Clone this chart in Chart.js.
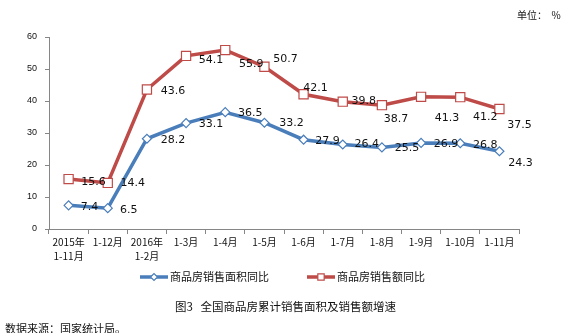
<!DOCTYPE html>
<html>
<head>
<meta charset="utf-8">
<script src="https://cdn.jsdelivr.net/npm/chart.js@4/dist/chart.umd.min.js"></script>
<style>
  body { margin: 0; background: #fff; }
  #wrap { position: relative; width: 571px; height: 333px; }
  #chart { position: absolute; left: 0; top: 0; }
  .txt { position: absolute; font-family: "Noto Sans CJK SC", sans-serif; color: #111; white-space: nowrap; }
  #unit { left: 517px; top: 7px; font-size: 10px; }
  #title { left: 0; width: 571px; text-align: center; top: 298px; font-size: 11.5px; padding-left: 0; }
  #source { left: 5px; top: 320px; font-size: 11px; }
</style>
</head>
<body>
<div id="wrap">
  <canvas id="chart" width="571" height="333"></canvas>
  <div class="txt" id="unit">单位：&nbsp;&nbsp;%</div>
  <div class="txt" id="title">图3&nbsp;&nbsp;&nbsp;全国商品房累计销售面积及销售额增速</div>
  <div class="txt" id="source">数据来源：国家统计局。</div>
</div>
<script>
const categories = [['2015年', '1-11月'], '1-12月', ['2016年', '1-2月'], '1-3月', '1-4月', '1-5月', '1-6月', '1-7月', '1-8月', '1-9月', '1-10月', '1-11月'];
const areaGrowth = [7.4, 6.5, 28.2, 33.1, 36.5, 33.2, 27.9, 26.4, 25.5, 26.9, 26.8, 24.3];
const salesGrowth = [15.6, 14.4, 43.6, 54.1, 55.9, 50.7, 42.1, 39.8, 38.7, 41.3, 41.2, 37.5];
const yTicks = [0, 10, 20, 30, 40, 50, 60];
const seriesNames = ['商品房销售面积同比', '商品房销售额同比'];

// label nudges (dx, dy) relative to each point, so labels don't sit on the lines
const areaNudge = [[21, 2], [21, 2], [26, 1], [25, 1], [25, 1], [27, 0], [24, 1], [24, 0], [25, 1], [25, 1], [25, 2], [21, 12]];
const salesNudge = [[25, 3], [25, 0], [26, 2], [25, 4], [26, 14], [21, -8], [12, -6], [21, 0], [14, 14], [26, 21], [25, 20], [20, 16]];

const BLUE = '#4A7EBB';
const RED = '#BE4B48';
const AXIS = '#868686';

const valueLabels = {
    id: 'valueLabels',
    afterDatasetsDraw(chart) {
        const ctx = chart.ctx;
        const nudges = [areaNudge, salesNudge];
        ctx.save();
        ctx.font = '11px "DejaVu Sans", sans-serif';
        ctx.fillStyle = '#111';
        ctx.textAlign = 'center';
        ctx.textBaseline = 'middle';
        chart.data.datasets.forEach((ds, i) => {
            chart.getDatasetMeta(i).data.forEach((pt, j) => {
                const [dx, dy] = nudges[i][j];
                ctx.fillText(ds.data[j].toFixed(1), pt.x + dx, pt.y + dy);
            });
        });
        ctx.restore();
    }
};

// legend: line swatch with marker in the middle, like the series
const lineLegend = {
    id: 'lineLegend',
    afterDraw(chart) {
        const ctx = chart.ctx;
        const y = 277;
        const items = [
            { x: 140, color: BLUE, style: 'rectRot', r: 3.5 },
            { x: 307, color: RED, style: 'rect', r: 4.5 }
        ];
        ctx.save();
        items.forEach((it, i) => {
            ctx.strokeStyle = it.color;
            ctx.lineWidth = 3.5;
            ctx.beginPath();
            ctx.moveTo(it.x, y);
            ctx.lineTo(it.x + 28, y);
            ctx.stroke();
            ctx.fillStyle = '#fff';
            ctx.lineWidth = 1.2;
            Chart.helpers.drawPoint(ctx, { pointStyle: it.style, radius: it.r, borderWidth: 1.2 }, it.x + 14, y);
            ctx.fillStyle = '#111';
            ctx.font = '11px "Noto Sans CJK SC", sans-serif';
            ctx.textBaseline = 'middle';
            ctx.fillText(seriesNames[i], it.x + 30, y);
        });
        ctx.restore();
    }
};

new Chart(document.getElementById('chart'), {
    type: 'line',
    data: {
        labels: categories,
        datasets: [
            {
                label: seriesNames[0],
                data: areaGrowth,
                borderColor: BLUE,
                borderWidth: 3.5,
                pointStyle: 'rectRot',
                pointRadius: 4.5,
                pointBorderWidth: 1.2,
                pointBackgroundColor: '#fff',
                pointBorderColor: BLUE,
                tension: 0
            },
            {
                label: seriesNames[1],
                data: salesGrowth,
                borderColor: RED,
                borderWidth: 3.5,
                pointStyle: 'rect',
                pointRadius: 6.5,
                pointBorderWidth: 1.2,
                pointBackgroundColor: '#fff',
                pointBorderColor: RED,
                tension: 0
            }
        ]
    },
    options: {
        responsive: false,
        devicePixelRatio: 1,
        animation: false,
        layout: { padding: { left: 0, top: 37, right: 52, bottom: 72 } },
        plugins: {
            legend: { display: false },
            tooltip: { enabled: false }
        },
        scales: {
            x: {
                offset: true,
                grid: { offset: true, drawOnChartArea: false, drawTicks: true, tickLength: 5, color: AXIS },
                border: { color: AXIS, width: 1 },
                ticks: {
                    color: '#111',
                    font: { family: '"Noto Sans CJK SC", sans-serif', size: 10, lineHeight: 1.4 },
                    padding: 1,
                    maxRotation: 0,
                    autoSkip: false
                },
                afterFit(scale) { scale.height = 32; }
            },
            y: {
                min: 0,
                max: 60,
                afterBuildTicks(scale) { scale.ticks = yTicks.map(v => ({ value: v })); },
                grid: { drawOnChartArea: false, drawTicks: true, tickLength: 4, color: AXIS },
                border: { color: AXIS, width: 1 },
                ticks: {
                    color: '#111',
                    font: { family: '"Liberation Sans", sans-serif', size: 9 },
                    padding: 8
                },
                afterFit(scale) { scale.width = 49; }
            }
        }
    },
    plugins: [valueLabels, lineLegend]
});
</script>
</body>
</html>
